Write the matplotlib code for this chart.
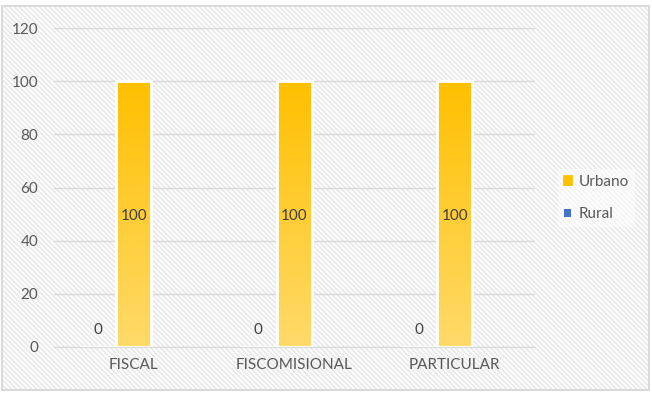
import numpy as np
import matplotlib
matplotlib.use("Agg")
import matplotlib.pyplot as plt
from matplotlib.patches import Rectangle
from matplotlib.colors import LinearSegmentedColormap

categorias = ["FISCAL", "FISCOMISIONAL", "PARTICULAR"]
urbano = [100, 100, 100]
rural = [0, 0, 0]
yticks = [0, 20, 40, 60, 80, 100, 120]

plt.rcParams['font.family'] = ['Lato', 'DejaVu Sans']

fig = plt.figure(figsize=(6.52, 3.96), dpi=100)
fig.patch.set_facecolor('white')

# fondo rayado (textura diagonal)
W, H = 646, 383
yy, xx = np.mgrid[0:H, 0:W]
d = np.abs(((xx - yy) % 5) - 2.5) / 2.5
tex = 1.0 - 0.08 * np.clip(1.6 - 2.0 * d, 0, 1)
rgb = np.dstack([tex, tex, tex])
fig.figimage(rgb, xo=2, yo=6, zorder=-5)
frame = Rectangle((1.5/652, 6/396), 647.5/652, 384/396, transform=fig.transFigure,
                  fill=False, edgecolor='#d9d9d9', lw=1.4, zorder=-4)
fig.patches.append(frame)

ax = fig.add_axes([53.5/652, 49/396, 481.5/652, 319/396])
ax.set_facecolor('none')
x = np.arange(len(categorias))
w = 0.22

b_rural = ax.bar(x - 0.225, rural, w, color='#4472C4', edgecolor='white', lw=2, zorder=3)
b_urb = ax.bar(x, urbano, w, color='#FFC000', edgecolor='white', lw=2, zorder=3)

cmap = LinearSegmentedColormap.from_list('oro', ['#FFDA6A', '#FFC000'])
grad = np.linspace(0, 1, 256).reshape(-1, 1)
for b in b_urb:
    x0, y0 = b.get_x(), b.get_y()
    im = ax.imshow(grad, cmap=cmap, origin='lower', aspect='auto',
                   extent=[x0, x0 + b.get_width(), y0, y0 + b.get_height()], zorder=3.5)
    im.set_clip_path(b)
    b2 = Rectangle((x0, y0), b.get_width(), b.get_height(), fill=False, edgecolor='white', lw=2, zorder=4)
    ax.add_patch(b2)

etq = ax.bar_label(b_urb, labels=[str(v) for v in urbano], label_type='center', color='#404040', fontsize=11, zorder=5)
for t in etq:
    t.set_y(t.get_position()[1] - 1.2)
ax.bar_label(b_rural, labels=[str(v) for v in rural], padding=7, color='#404040', fontsize=11)

ax.set_xlim(-0.5, 2.5)
ax.set_ylim(0, 120)
ax.set_yticks(yticks)
ax.set_xticks(x)
ax.set_xticklabels(categorias)
ax.tick_params(length=0, colors='#595959', labelsize=11)
ax.tick_params(axis='y', pad=11)
ax.tick_params(axis='x', pad=8)
ax.grid(axis='y', color='#d9d9d9', lw=1)
ax.set_axisbelow(True)
for s in ['top', 'right', 'left']:
    ax.spines[s].set_visible(False)
ax.spines['bottom'].set_color('#d9d9d9')

leg = fig.legend([b_urb[0], b_rural[0]], ['Urbano', 'Rural'], loc='center left',
                 bbox_to_anchor=(550/652, 198/396), frameon=True, fontsize=11,
                 handlelength=0.45, handleheight=0.45, labelspacing=1.2, handletextpad=0.5,
                 labelcolor='#595959', fancybox=False)
leg.get_frame().set_facecolor('white')
leg.get_frame().set_alpha(0.5)
leg.get_frame().set_edgecolor('none')
leg.legend_handles[0].set_color('#FFC000')
leg.legend_handles[1].set_edgecolor('none')

plt.savefig("out.png", dpi=100)
plt.close()
